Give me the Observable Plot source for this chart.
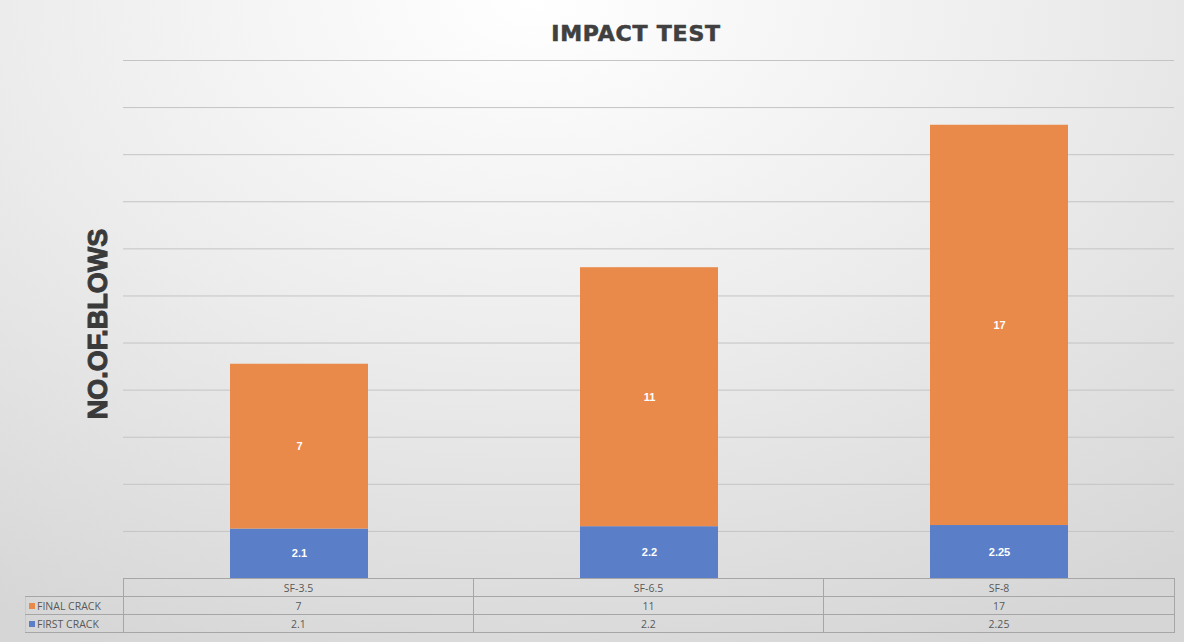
<!DOCTYPE html>
<html>
<head>
<meta charset="utf-8">
<script src="https://cdn.jsdelivr.net/npm/d3@7"></script>
<script src="https://cdn.jsdelivr.net/npm/@observablehq/plot@0.6"></script>
<style>
  html, body { margin: 0; padding: 0; }
  #wrap {
    position: relative; width: 1184px; height: 642px; overflow: hidden;
    background: radial-gradient(ellipse 90% 110% at 45% 0%, #ffffff 0%, #ececec 50%, #d6d6d6 100%);
    font-family: "Liberation Sans", Arial, sans-serif;
  }
  #title {
    position: absolute; left: 436px; width: 400px; top: 21px; text-align: center;
    font-family: "DejaVu Sans", sans-serif; font-weight: bold; font-size: 22px;
    color: #404040; letter-spacing: 0.8px; -webkit-text-stroke: 0.6px #404040;
  }
  #ylabel {
    position: absolute; left: 98px; top: 324px; transform: translate(-50%, -50%) rotate(-90deg);
    font-family: "Liberation Sans", Arial, sans-serif; font-weight: bold; font-size: 27px;
    color: #3a3a3a; white-space: nowrap; -webkit-text-stroke: 1px #3a3a3a;
  }
  #chart { position: absolute; left: 0; top: 0; }
  #tbl {
    position: absolute; left: 25px; top: 578px; border-collapse: collapse; table-layout: fixed; width: 1149px;
    font-family: "Open Sans", "Liberation Sans", sans-serif; font-size: 10.5px; color: #595959;
  }
  #tbl td { border: 1px solid #a6a6a6; height: 18px; padding: 0; text-align: center; box-sizing: border-box; }
  #tbl td.lab { text-align: left; padding-left: 3px; border-left: 1px solid #c8c8c8; white-space: nowrap; }
  #tbl td.blank { border: none; border-right: 1px solid #a6a6a6; }
  .sw { display: inline-block; width: 6px; height: 6px; margin-right: 2px; vertical-align: 1px; }
</style>
</head>
<body>
<div id="wrap">
  <div id="chart"></div>
  <div id="title">IMPACT TEST</div>
  <div id="ylabel">NO.OF.BLOWS</div>
  <table id="tbl">
    <colgroup><col style="width:98px"><col style="width:350px"><col style="width:350px"><col style="width:351px"></colgroup>
  </table>
</div>
<script>
const categories = ["SF-3.5", "SF-6.5", "SF-8"];
const firstCrack = [2.1, 2.2, 2.25];
const finalCrack = [7, 11, 17];
const seriesNames = ["FIRST CRACK", "FINAL CRACK"];
const seriesColors = ["#5a7fc8", "#ea8a4a"];
const gridTicks = d3.range(0, 23, 2);

const data = [];
categories.forEach((c, i) => {
  data.push({cat: c, series: "FIRST CRACK", value: firstCrack[i]});
  data.push({cat: c, series: "FINAL CRACK", value: finalCrack[i]});
});

const plot = Plot.plot({
  width: 1184,
  height: 580,
  marginTop: 60,
  marginBottom: 2,
  marginLeft: 123,
  marginRight: 10,
  style: {background: "transparent", overflow: "visible"},
  x: {domain: categories, paddingInner: 0.606, paddingOuter: 0.303, axis: null},
  y: {domain: [0, 22], axis: null},
  color: {domain: seriesNames, range: seriesColors},
  marks: [
    Plot.ruleY(gridTicks.filter(d => d > 0), {stroke: "#c4c4c4", strokeWidth: 1}),
    Plot.barY(data, Plot.stackY({x: "cat", y: "value", fill: "series", order: seriesNames})),
    Plot.ruleY([0], {stroke: "#8c8c8c", strokeWidth: 1}),
    Plot.text(data, Plot.stackY({x: "cat", y: "value", z: "series", order: seriesNames,
      text: d => String(d.value), fill: "white", fontWeight: "bold", fontSize: 11,
      fontFamily: "Liberation Sans, Arial, sans-serif"}))
  ]
});
document.getElementById("chart").appendChild(plot);

// data table
const tbl = document.getElementById("tbl");
let html = "<tr><td class='blank'></td>" + categories.map(c => `<td>${c}</td>`).join("") + "</tr>";
const rows = [["FINAL CRACK", finalCrack, seriesColors[1]], ["FIRST CRACK", firstCrack, seriesColors[0]]];
rows.forEach(([name, vals, col]) => {
  html += `<tr><td class='lab'><span class='sw' style='background:${col}'></span>${name}</td>` +
    vals.map(v => `<td>${v}</td>`).join("") + "</tr>";
});
tbl.insertAdjacentHTML("beforeend", html);
</script>
</body>
</html>
